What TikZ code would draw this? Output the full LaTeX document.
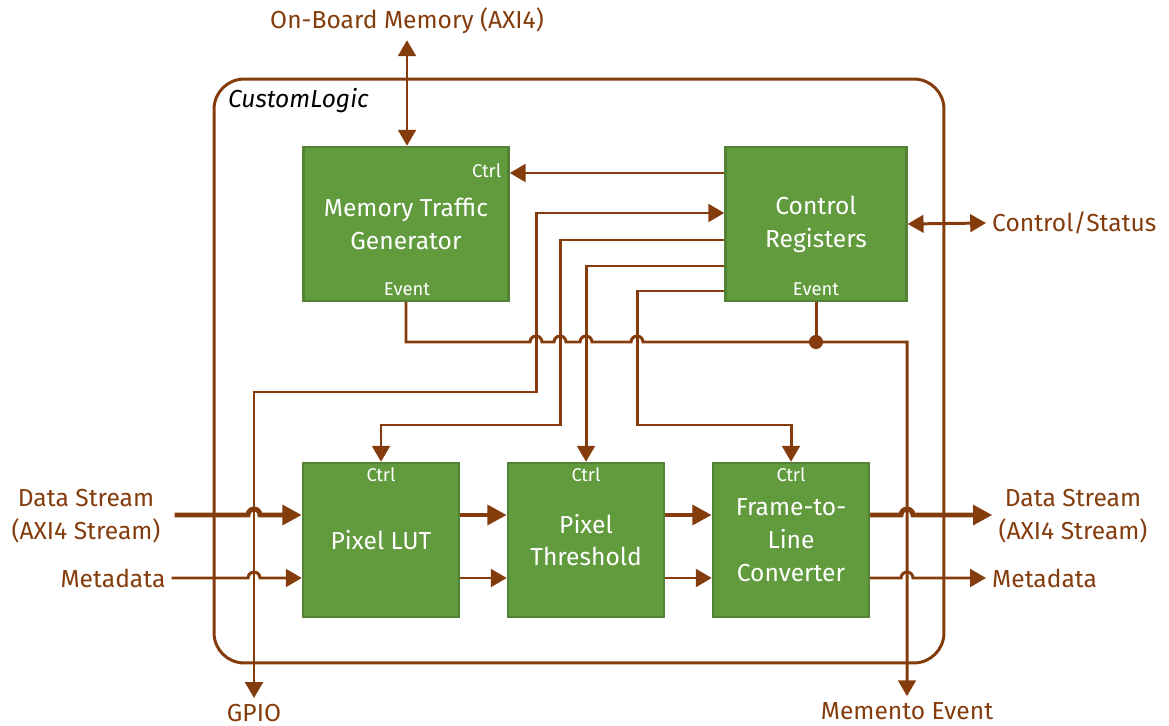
\documentclass[tikz,border=0pt]{standalone}
\usepackage{fontspec}
\setmainfont{Fira Sans}
\usetikzlibrary{arrows.meta,calc,positioning}

\definecolor{brn}{RGB}{132,60,12}
\definecolor{blkfill}{RGB}{98,154,62}
\definecolor{blkline}{RGB}{84,130,53}

\begin{document}
\begin{tikzpicture}[x=0.02cm,y=-0.02cm,
  font=\fontsize{14}{18.7}\selectfont,
  blk/.style={rectangle,draw=blkline,line width=1.4pt,fill=blkfill,text=white,align=center,minimum height=3.08cm},
  small/.style={text=white,font=\fontsize{10.5}{12}\selectfont,inner sep=0pt},
  lbl/.style={text=brn,align=center},
  wire/.style={draw=brn,line width=1.7pt,>={Triangle[length=9pt,width=10pt]}},
  fat/.style={draw=brn,line width=2.8pt,>={Triangle[length=11pt,width=11pt]}},
  hop/.style={insert path={-- ($(#1)+(-3.4pt,0)$) arc[start angle=180,end angle=0,radius=3.4pt]}}]
\useasboundingbox (0,0) rectangle (1169,726);

\node [draw=brn,line width=1.7pt,rounded corners=0.6cm,minimum width=14.6cm,minimum height=11.68cm] (cl) at (579,371) {};
\node [anchor=west,font=\fontsize{14}{16}\itshape] (cltitle) at (222,101) {CustomLogic};

\node [blk,minimum width=4.1cm] (mtg) at (406,224) {Memory Traffic\\Generator};
\node [blk,minimum width=3.62cm] (cr) at (816,224) {Control\\Registers};
\node [blk,minimum width=3.12cm] (lut) at (381,540) {Pixel LUT};
\node [blk,minimum width=3.12cm] (thr) at (586,540) {Pixel\\Threshold};
\node [blk,minimum width=3.12cm] (ftl) at (791,540) {Frame-to-\\Line\\Converter};

\node [small] (mtgctrl) at ($(mtg.north east)+(-23,25)$) {Ctrl};
\node [small] (mtgev) at ($(mtg.south)+(1,-13)$) {Event};
\node [small] (crev) at ($(cr.south)+(0,-13)$) {Event};
\node [small] (lutctrl) at ($(lut.north)+(0,13)$) {Ctrl};
\node [small] (thrctrl) at ($(thr.north)+(0,13)$) {Ctrl};
\node [small] (ftlctrl) at ($(ftl.north)+(0,13)$) {Ctrl};

\node [lbl] (obm) at (407,21) {On-Board Memory (AXI4)};
\node [lbl,anchor=west] (cs) at (986,223) {Control/Status};
\node [lbl] (dsin) at (86,516) {Data Stream\\(AXI4 Stream)};
\node [lbl] (mdin) at (113,578) {Metadata};
\node [lbl] (dsout) at (1073,516) {Data Stream\\(AXI4 Stream)};
\node [lbl,anchor=west] (mdout) at (986,578) {Metadata};
\node [lbl] (gpio) at (254,713) {GPIO};
\node [lbl] (mem) at (907,711) {Memento Event};

\coordinate (bus) at (0,342);
\coordinate (sY) at (0,515);
\coordinate (mY) at (0,578);
\coordinate (k1) at (536,392);
\coordinate (k2) at (560,425);
\coordinate (k3) at (637,425);
\path (cr.west) ++(0,-51) coordinate (r1) ++(0,40) coordinate (r2)
  ++(0,27) coordinate (r3) ++(0,26) coordinate (r4) ++(0,25) coordinate (r5);

% memory and control ports
\draw [wire,<->] (obm.south) -- (obm.south |- mtg.north);
\draw [wire,<->] (cr.east) -- (cs.west);
\draw [wire,->] (r1) -- (r1 -| mtg.east);
\draw [wire,<->] (r2) -| (k1) -| (gpio.north);
\draw [wire,->] (r3) -| (k2) -| (lut.north);
\draw [wire,->] (r4) -| (thr.north);
\draw [wire,->] (r5) -| (k3) -| (ftl.north);

% event bus
\draw [wire,->] (mtg.south) |- (mtg.south |- bus) [hop=k1|-bus] [hop=k2|-bus] [hop=thr.north|-bus] [hop=k3|-bus]
  -- (mem.north |- bus) -- (mem.north);
\draw [wire] (cr.south) -- (cr.south |- bus);
\fill [brn] (cr.south |- bus) circle (4pt);

% streams
\draw [fat,->] ($(dsin.east |- sY)+(8,0)$) [hop=gpio|-sY] -- (sY -| lut.west);
\draw [wire,->] (mdin.east |- mY) [hop=gpio|-mY] -- (mY -| lut.west);
\draw [fat,->] (sY -| lut.east) -- (sY -| thr.west);
\draw [wire,->] (mY -| lut.east) -- (mY -| thr.west);
\draw [fat,->] (sY -| thr.east) -- (sY -| ftl.west);
\draw [wire,->] (mY -| thr.east) -- (mY -| ftl.west);
\draw [fat,->] (sY -| ftl.east) [hop=mem|-sY] -- (sY -| dsout.west);
\draw [wire,->] (mY -| ftl.east) [hop=mem|-mY] -- (mY -| mdout.west);
\end{tikzpicture}
\end{document}
